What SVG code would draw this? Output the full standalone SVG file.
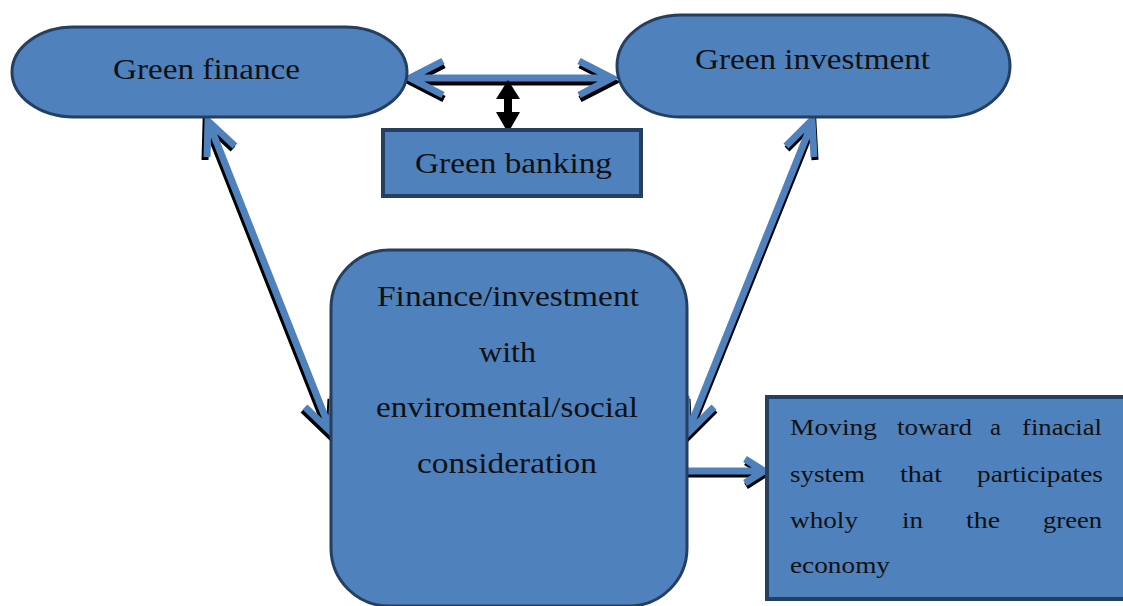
<svg xmlns="http://www.w3.org/2000/svg" xmlns:xlink="http://www.w3.org/1999/xlink" width="1123" height="606" viewBox="0 0 1123 606">
  <style>
    .node { fill: #4f81bd; stroke: #243f60; stroke-width: 3; }
    .box { fill: #4f81bd; stroke: #243f60; stroke-width: 4; }
    .label { font-family: "Liberation Serif", "Times New Roman", serif; fill: #111; }
    .big { font-size: 29px; }
    .small { font-size: 24px; }
    .shadow { fill: none; stroke: #000; stroke-width: 7; stroke-linejoin: miter; }
    .arrow { fill: none; stroke: #4f81bd; stroke-width: 7; stroke-linejoin: miter; }
  </style>
  <defs>
    <!-- arrow geometry: shaft plus open chevron heads -->
    <path id="a-top" d="M411,78 L611,78 M443,61 L410,78 L443,95 M579,61 L612,78 L579,95"/>
    <path id="a-left" d="M209,123 L330,429 M207,157 L208,121 L235,146 M333,396 L331,432 L305,407"/>
    <path id="a-right" d="M812,123 L689,429 M786,146 L812,120 L814,157 M714,407 L688,433 L686,396"/>
    <path id="a-out" d="M687,471 L762,471 M745,459 L764,471 L745,483"/>
  </defs>

  <g id="connectors">
    <use xlink:href="#a-top" class="shadow" transform="translate(1,4)"/>
    <use xlink:href="#a-left" class="shadow" transform="translate(-2,3)"/>
    <use xlink:href="#a-right" class="shadow" transform="translate(1,3)"/>
    <use xlink:href="#a-out" class="shadow" transform="translate(1,3)"/>
    <use xlink:href="#a-top" class="arrow"/>
    <use xlink:href="#a-left" class="arrow"/>
    <use xlink:href="#a-right" class="arrow"/>
    <use xlink:href="#a-out" class="arrow"/>
    <!-- small black double-headed arrow down to the banking box -->
    <polygon points="508,80 520,99 512,99 512,112 520,112 508,133 496,112 504,112 504,99 496,99" fill="#000"/>
  </g>

  <g id="green-finance">
    <rect class="node" x="12" y="27" width="395" height="90" rx="62" ry="45"/>
    <text class="label big" x="113" y="79" textLength="187" lengthAdjust="spacingAndGlyphs">Green finance</text>
  </g>

  <g id="green-investment">
    <rect class="node" x="617" y="15" width="393" height="102" rx="64" ry="51"/>
    <text class="label big" x="695" y="69" textLength="235" lengthAdjust="spacingAndGlyphs">Green investment</text>
  </g>

  <g id="green-banking">
    <rect class="box" x="383" y="130" width="258" height="66"/>
    <text class="label big" x="415" y="173" textLength="197" lengthAdjust="spacingAndGlyphs">Green banking</text>
  </g>

  <g id="finance-investment">
    <rect class="node" x="331" y="250" width="356" height="356" rx="58" ry="58"/>
    <text class="label big" x="377" y="306" textLength="262" lengthAdjust="spacingAndGlyphs">Finance/investment</text>
    <text class="label big" x="479" y="362" textLength="57" lengthAdjust="spacingAndGlyphs">with</text>
    <text class="label big" x="376" y="417" textLength="262" lengthAdjust="spacingAndGlyphs">enviromental/social</text>
    <text class="label big" x="417" y="473" textLength="180" lengthAdjust="spacingAndGlyphs">consideration</text>
  </g>

  <g id="financial-system">
    <rect class="box" x="767" y="397" width="360" height="202"/>
    <g class="label small">
      <text x="790" y="435" textLength="87" lengthAdjust="spacingAndGlyphs">Moving</text>
      <text x="897" y="435" textLength="75" lengthAdjust="spacingAndGlyphs">toward</text>
      <text x="990" y="435" textLength="11" lengthAdjust="spacingAndGlyphs">a</text>
      <text x="1022" y="435" textLength="80" lengthAdjust="spacingAndGlyphs">finacial</text>
      <text x="790" y="482" textLength="75" lengthAdjust="spacingAndGlyphs">system</text>
      <text x="900" y="482" textLength="42" lengthAdjust="spacingAndGlyphs">that</text>
      <text x="977" y="482" textLength="126" lengthAdjust="spacingAndGlyphs">participates</text>
      <text x="790" y="528" textLength="68" lengthAdjust="spacingAndGlyphs">wholy</text>
      <text x="902" y="528" textLength="21" lengthAdjust="spacingAndGlyphs">in</text>
      <text x="966" y="528" textLength="34" lengthAdjust="spacingAndGlyphs">the</text>
      <text x="1043" y="528" textLength="59" lengthAdjust="spacingAndGlyphs">green</text>
      <text x="790" y="573" textLength="100" lengthAdjust="spacingAndGlyphs">economy</text>
    </g>
  </g>
</svg>
